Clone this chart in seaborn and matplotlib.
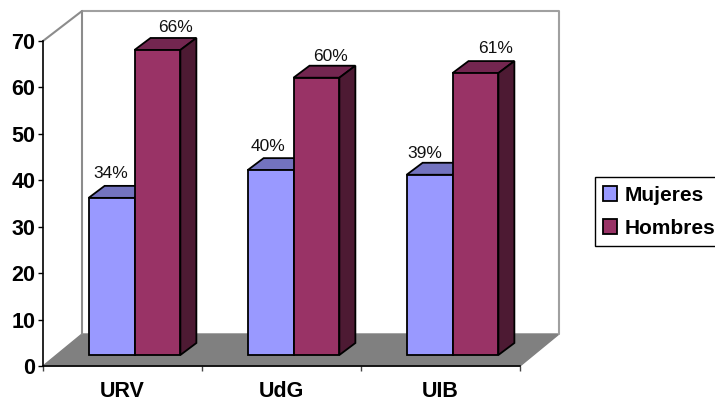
import matplotlib
matplotlib.use("Agg")
import matplotlib.pyplot as plt
import pandas as pd
import seaborn as sns
from matplotlib.patches import Polygon
from matplotlib.transforms import Affine2D

universities = ["URV", "UdG", "UIB"]
mujeres = [34, 40, 39]
hombres = [66, 60, 61]
y_ticks = [0, 10, 20, 30, 40, 50, 60, 70]

W, H = 715, 401

sns.set_style("white")
plt.rcParams["font.family"] = ["Liberation Sans", "DejaVu Sans"]

df = pd.DataFrame({
    "uni": universities * 2,
    "sexo": ["Mujeres"] * 3 + ["Hombres"] * 3,
    "valor": mujeres + hombres,
})


def box(left, right, top, bottom):
    # pixel box (from top-left of the image) to figure fractions
    return [left / W, 1 - bottom / H, (right - left) / W, (bottom - top) / H]


fig = plt.figure(figsize=(W / 100, H / 100), dpi=100)
ax = fig.add_axes(box(43, 520, 41, 366))
ax.set_xlim(-0.5, 2.5)
ax.set_ylim(0, 70)

# back wall and floor, offset in pixels from the front of the axes
depth = Affine2D().translate(39, 32)
px = ax.transAxes
wall_top = 323 / 325
ax.add_patch(Polygon([(0, 0), (1, 0), (1.0818, 0.0985), (0.0818, 0.0985)],
                     transform=px, facecolor="#808080", edgecolor="#808080",
                     clip_on=False, zorder=0))
ax.plot([0, 0], [0, wall_top], transform=px + depth, color="#8c8c8c", lw=1.5,
        clip_on=False, zorder=0.5)
ax.plot([0, 1, 1], [wall_top, wall_top, 0], transform=px + depth, color="#a0a0a0", lw=1.5,
        clip_on=False, zorder=0.5)
ax.plot([0, 0.0818], [1, 1.0923], transform=px, color="#8c8c8c", lw=1.5,
        clip_on=False, zorder=0.5)

for side in ["top", "right"]:
    ax.spines[side].set_visible(False)
for side in ["left", "bottom"]:
    ax.spines[side].set_color("black")
    ax.spines[side].set_linewidth(1.2)

ax.set_yticks(y_ticks)
ax.set_xticks(range(3), universities)
ax.set_xticks([-0.5, 0.5, 1.5, 2.5], minor=True)
ax.tick_params(axis="y", left=True, length=3.6, width=1, pad=2, labelsize=15.5,
               color="black", labelcolor="black")
ax.tick_params(axis="x", which="major", bottom=False, length=0, pad=11, labelsize=15.5,
               labelcolor="black")
ax.tick_params(axis="x", which="minor", bottom=True, length=3.6, width=1, color="#444444")
for lab in ax.get_xticklabels() + ax.get_yticklabels():
    lab.set_fontweight("bold")

# bars sit on their own axes, moved into the floor of the chart
bx = fig.add_axes(box(55, 532, 31.5, 355))
sns.barplot(data=df, x="uni", y="valor", hue="sexo", ax=bx, width=0.577, gap=0,
            palette={"Mujeres": "#9999FF", "Hombres": "#993366"},
            edgecolor="black", linewidth=1.3, saturation=1)
bx.set_xlim(-0.5, 2.5)
bx.set_ylim(0, 70)
bx.axis("off")

dx = 16 * 3 / 477
dy = 12 * 70 / 323.5
tops = {0: "#7373BF", 1: "#732650"}
sides = {0: "#4D4D80", 1: "#4D1A33"}
label_dx = [-1, -3, -5, 18, 14, 20]
label_dy = [24, 24, 21, 22, 21, 25]
for i, bar in enumerate(bx.patches[:6]):
    bar.set_zorder(3)
    bar.set_clip_on(False)
    x0, w, h = bar.get_x(), bar.get_width(), bar.get_height()
    x1 = x0 + w
    s = i // 3
    bx.add_patch(Polygon([(x0, h), (x1, h), (x1 + dx, h + dy), (x0 + dx, h + dy)],
                         facecolor=tops[s], edgecolor="black", lw=1.3, clip_on=False, zorder=2))
    bx.add_patch(Polygon([(x1, 0), (x1 + dx, dy), (x1 + dx, h + dy), (x1, h)],
                         facecolor=sides[s], edgecolor="black", lw=1.3, clip_on=False, zorder=2))
    bx.annotate(f"{h:.0f}%", (x0 + w / 2, h), xytext=(label_dx[i], label_dy[i]),
                textcoords="offset pixels", ha="center", va="center",
                fontsize=12.5, color="#111111", annotation_clip=False)

handles, labels = bx.get_legend_handles_labels()
leg = bx.legend(handles[:2], labels[:2], loc="upper left",
                bbox_to_anchor=(595 / W, 1 - 177.5 / H), bbox_transform=fig.transFigure,
                frameon=True, fancybox=False, edgecolor="black", framealpha=1,
                prop={"weight": "bold", "size": 15}, handlelength=0.67, handleheight=0.7,
                handletextpad=0.35, borderpad=0.4, labelspacing=0.66, borderaxespad=0)
leg.get_frame().set_linewidth(1)
for t in leg.get_texts():
    t.set_color("black")

fig.savefig("out.png", dpi=100)
